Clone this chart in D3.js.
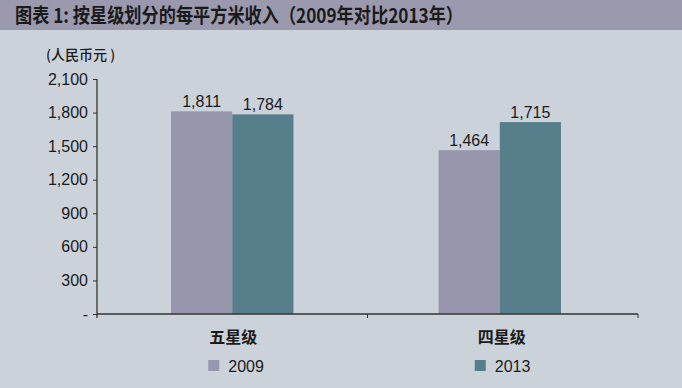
<!DOCTYPE html>
<html>
<head>
<meta charset="utf-8">
<script src="https://cdn.jsdelivr.net/npm/d3@7"></script>
<style>
  body { margin: 0; background: #cbd2da; }
  svg { display: block; }
  text { font-family: "Liberation Sans", Arial, sans-serif; fill: #1a1a1a; }
  .cjk { font-family: "Noto Sans CJK SC", "Liberation Sans", sans-serif; }
</style>
</head>
<body>
<div id="chart"></div>
<script>
// data
var categories = ["五星级", "四星级"];
var seriesNames = ["2009", "2013"];
var values2009 = [1811, 1464];
var values2013 = [1784, 1715];
var yTicks = [0, 300, 600, 900, 1200, 1500, 1800, 2100];

var colors = { "2009": "#9896ac", "2013": "#567f8b" };
var width = 682, height = 388;
var margin = { top: 79, right: 44, bottom: 74, left: 97 };

var svg = d3.select("#chart").append("svg")
  .attr("width", width)
  .attr("height", height);

// background + title bar
svg.append("rect").attr("width", width).attr("height", height).attr("fill", "#cbd2da");
svg.append("rect").attr("width", width).attr("height", 30).attr("fill", "#9b99ad");
svg.append("text")
  .attr("class", "cjk")
  .attr("x", 15)
  .attr("y", 23)
  .attr("textLength", 448)
  .attr("lengthAdjust", "spacingAndGlyphs")
  .style("font-size", "20px")
  .style("font-weight", "bold")
  .text("图表 1: 按星级划分的每平方米收入（2009年对比2013年）");

var x0 = d3.scaleBand()
  .domain(categories)
  .range([margin.left, width - margin.right])
  .padding(0);

var x1 = d3.scaleBand()
  .domain(seriesNames)
  .range([0, x0.bandwidth()])
  .paddingInner(0)
  .paddingOuter(1.21);

var y = d3.scaleLinear()
  .domain([0, 2100])
  .range([height - margin.bottom, margin.top]);

var rows = categories.map(function (c, i) {
  return { cat: c, vals: [
    { key: "2009", v: values2009[i] },
    { key: "2013", v: values2013[i] }
  ] };
});

// bars
var groups = svg.selectAll(".grp")
  .data(rows)
  .enter().append("g")
  .attr("class", "grp")
  .attr("transform", function (d, i) { return "translate(" + (x0(d.cat) - 3 * i) + ",0)"; });

groups.selectAll("rect")
  .data(function (d) { return d.vals; })
  .enter().append("rect")
  .attr("x", function (d) { return x1(d.key); })
  .attr("width", x1.bandwidth())
  .attr("y", function (d) { return y(d.v); })
  .attr("height", function (d) { return y(0) - y(d.v); })
  .attr("fill", function (d) { return colors[d.key]; });

groups.selectAll("text.val")
  .data(function (d) { return d.vals; })
  .enter().append("text")
  .attr("class", "val")
  .attr("x", function (d) { return x1(d.key) + x1.bandwidth() / 2; })
  .attr("y", function (d) { return y(d.v) - 4; })
  .attr("text-anchor", "middle")
  .style("font-size", "16px")
  .text(function (d) { return d3.format(",")(d.v); });

// y axis
var yAxis = svg.append("g")
  .attr("transform", "translate(" + margin.left + ",0)")
  .call(d3.axisLeft(y)
    .tickValues(yTicks)
    .tickSize(4)
    .tickPadding(5)
    .tickFormat(function (d) { return d === 0 ? "-" : d3.format(",")(d); }));
yAxis.attr("font-family", null);
yAxis.select(".domain").attr("stroke", "#333").attr("stroke-width", 1.3)
  .attr("d", "M0," + (y(2100)) + "V" + (y(0) + 4));
yAxis.selectAll(".tick line").attr("stroke", "#333");
yAxis.selectAll(".tick text")
  .style("font-size", "16px")
  .style("fill", "#1a1a1a");

// x axis
var xAxis = svg.append("g")
  .attr("transform", "translate(0," + y(0) + ")");
xAxis.append("path")
  .attr("d", "M" + margin.left + ",0H" + (width - margin.right))
  .attr("stroke", "#333")
  .attr("stroke-width", 1.3)
  .attr("fill", "none");
xAxis.selectAll("line.tk")
  .data(categories)
  .enter().append("line")
  .attr("class", "tk")
  .attr("x1", function (d) { return x0(d) + x0.bandwidth(); })
  .attr("x2", function (d) { return x0(d) + x0.bandwidth(); })
  .attr("y1", 0)
  .attr("y2", 4)
  .attr("stroke", "#333");
xAxis.selectAll("text.cat")
  .data(categories)
  .enter().append("text")
  .attr("class", "cat cjk")
  .attr("x", function (d, i) { return x0(d) + x0.bandwidth() / 2 + 1 - 2 * i; })
  .attr("y", 29)
  .attr("text-anchor", "middle")
  .style("font-size", "16px")
  .style("font-weight", "bold")
  .text(function (d) { return d; });

// unit label
svg.append("text")
  .attr("class", "cjk")
  .attr("x", 46)
  .attr("y", 60)
  .style("font-size", "14px")
  .style("font-weight", "500")
  .text("(人民币元 )");

// legend
var legend = svg.selectAll(".leg")
  .data(seriesNames)
  .enter().append("g")
  .attr("class", "leg")
  .attr("transform", function (d, i) { return "translate(" + (x0(categories[i]) + x0.bandwidth() / 2 - 24 - 4 * i) + ",360)"; });
legend.append("rect")
  .attr("width", 11)
  .attr("height", 11)
  .attr("fill", function (d) { return colors[d]; });
legend.append("text")
  .attr("x", 20)
  .attr("y", 11.5)
  .style("font-size", "16px")
  .text(function (d) { return d; });
</script>
</body>
</html>
